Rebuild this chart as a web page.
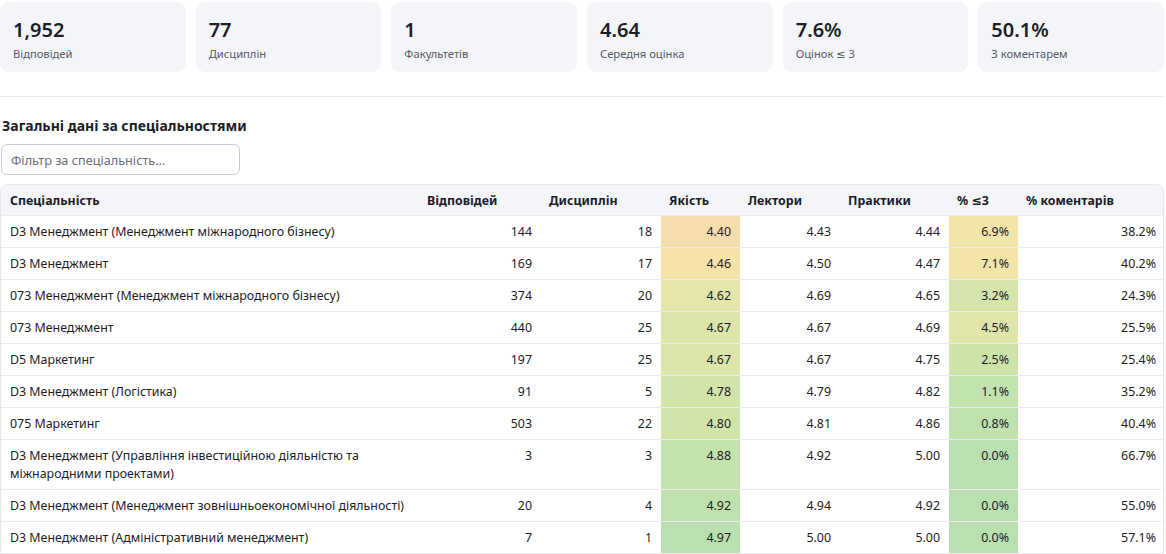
<!DOCTYPE html>
<html lang="uk">
<head>
<meta charset="utf-8">
<script src="https://cdn.jsdelivr.net/npm/chart.js@4.4.1/dist/chart.umd.min.js"></script>
<style>
    body {
        margin: 0;
        font-family: "Noto Sans", "DejaVu Sans", sans-serif;
        color: #1c1d26;
        background: #fff;
    }
    .wrap { width: 1164px; padding-top: 2px; }
    .cards { display: flex; gap: 10px; }
    .card {
        flex: 1;
        height: 70px;
        background: #f4f5f9;
        border-radius: 9px;
        box-sizing: border-box;
        padding: 15px 13px;
    }
    .card .val { font-size: 20px; font-weight: 600; line-height: 26px; }
    .card .lbl { font-size: 11.2px; color: #555a66; line-height: 16px; margin-top: 3px; }
    hr { border: 0; border-top: 1px solid #e8e9ee; margin: 24px 0 0 0; }
    h3 { font-size: 14px; font-weight: 700; margin: 19px 0 0 2px; line-height: 20px; }
    .filter {
        margin: 8px 0 0 1px;
        width: 239px; height: 31px;
        box-sizing: border-box;
        border: 1px solid #c9ccd8;
        border-radius: 6px;
        font: 12.7px "Noto Sans", sans-serif;
        padding: 0 9px;
        color: #1c1d26;
    }
    .filter::placeholder { color: #6a6d78; }
    .tbl {
        margin-top: 9px;
        border: 1px solid #e6e7ed;
        border-radius: 8px 8px 0 0;
        overflow: hidden;
        border-bottom: 0;
    }
    table { border-collapse: collapse; table-layout: fixed; width: 100%; font-size: 12.4px; }
    th, td {
        padding: 6.5px 9px 6.5px 8px;
        line-height: 18px;
        border-bottom: 1px solid #eaebf0;
        vertical-align: top;
    }
    th { background: #f4f5f9; text-align: left; font-weight: 700; padding-top: 7px; padding-bottom: 5px; }
    td { text-align: right; }
    td:first-child, th:first-child { text-align: left; padding-left: 9px; }
</style>
</head>
<body>
<div class="wrap">
    <div class="cards" id="cards"></div>
    <hr>
    <h3>Загальні дані за спеціальностями</h3>
    <input class="filter" placeholder="Фільтр за спеціальність...">
    <div class="tbl">
        <table>
            <colgroup>
                <col style="width:418px"><col style="width:122px"><col style="width:120px"><col style="width:79px">
                <col style="width:100px"><col style="width:109px"><col style="width:69px"><col style="width:147px">
            </colgroup>
            <thead><tr id="head"></tr></thead>
            <tbody id="body"></tbody>
        </table>
    </div>
</div>
<script>
const kpiValues = ['1,952', '77', '1', '4.64', '7.6%', '50.1%'];
const kpiLabels = ['Відповідей', 'Дисциплін', 'Факультетів', 'Середня оцінка', 'Оцінок ≤ 3', 'З коментарем'];

const columns = ['Спеціальність', 'Відповідей', 'Дисциплін', 'Якість', 'Лектори', 'Практики', '% ≤3', '% коментарів'];

const specialties = [
    'D3 Менеджмент (Менеджмент міжнародного бізнесу)',
    'D3 Менеджмент',
    '073 Менеджмент (Менеджмент міжнародного бізнесу)',
    '073 Менеджмент',
    'D5 Маркетинг',
    'D3 Менеджмент (Логістика)',
    '075 Маркетинг',
    'D3 Менеджмент (Управління інвестиційною діяльністю та міжнародними проектами)',
    'D3 Менеджмент (Менеджмент зовнішньоекономічної діяльності)',
    'D3 Менеджмент (Адміністративний менеджмент)'
];
const responses   = [144, 169, 374, 440, 197, 91, 503, 3, 20, 7];
const disciplines = [18, 17, 20, 25, 25, 5, 22, 3, 4, 1];
const quality     = [4.40, 4.46, 4.62, 4.67, 4.67, 4.78, 4.80, 4.88, 4.92, 4.97];
const lecturers   = [4.43, 4.50, 4.69, 4.67, 4.67, 4.79, 4.81, 4.92, 4.94, 5.00];
const practices   = [4.44, 4.47, 4.65, 4.69, 4.75, 4.82, 4.86, 5.00, 4.92, 5.00];
const lowShare    = [6.9, 7.1, 3.2, 4.5, 2.5, 1.1, 0.8, 0.0, 0.0, 0.0];
const commentShare = [38.2, 40.2, 24.3, 25.5, 25.4, 35.2, 40.4, 66.7, 55.0, 57.1];

// colour ramps for the two highlighted columns
const qualityRamp = [[4.40, [245, 221, 173]], [4.46, [246, 227, 170]], [4.62, [228, 230, 171]],
    [4.80, [208, 228, 170]], [4.97, [185, 224, 174]]];
const lowRamp = [[0, [185, 224, 174]], [1.1, [194, 226, 174]], [2.5, [205, 227, 170]],
    [4.5, [224, 230, 170]], [7.1, [243, 229, 170]]];

function rampColour(ramp, v) {
    if (v <= ramp[0][0]) return `rgb(${ramp[0][1].join(',')})`;
    for (let i = 1; i < ramp.length; i++) {
        if (v <= ramp[i][0]) {
            const t = (v - ramp[i - 1][0]) / (ramp[i][0] - ramp[i - 1][0]);
            const c = ramp[i - 1][1].map((a, k) => Math.round(a + (ramp[i][1][k] - a) * t));
            return `rgb(${c.join(',')})`;
        }
    }
    return `rgb(${ramp[ramp.length - 1][1].join(',')})`;
}

document.getElementById('cards').innerHTML = kpiValues.map((v, i) =>
    `<div class="card"><div class="val">${v}</div><div class="lbl">${kpiLabels[i]}</div></div>`).join('');

document.getElementById('head').innerHTML = columns.map(c => `<th>${c}</th>`).join('');

let rows = '';
specialties.forEach((name, i) => {
    rows += '<tr>' +
        `<td>${name}</td>` +
        `<td>${responses[i]}</td>` +
        `<td>${disciplines[i]}</td>` +
        `<td style="background:${rampColour(qualityRamp, quality[i])}">${quality[i].toFixed(2)}</td>` +
        `<td>${lecturers[i].toFixed(2)}</td>` +
        `<td>${practices[i].toFixed(2)}</td>` +
        `<td style="background:${rampColour(lowRamp, lowShare[i])}">${lowShare[i].toFixed(1)}%</td>` +
        `<td>${commentShare[i].toFixed(1)}%</td>` +
        '</tr>';
});
document.getElementById('body').innerHTML = rows;
</script>
</body>
</html>
